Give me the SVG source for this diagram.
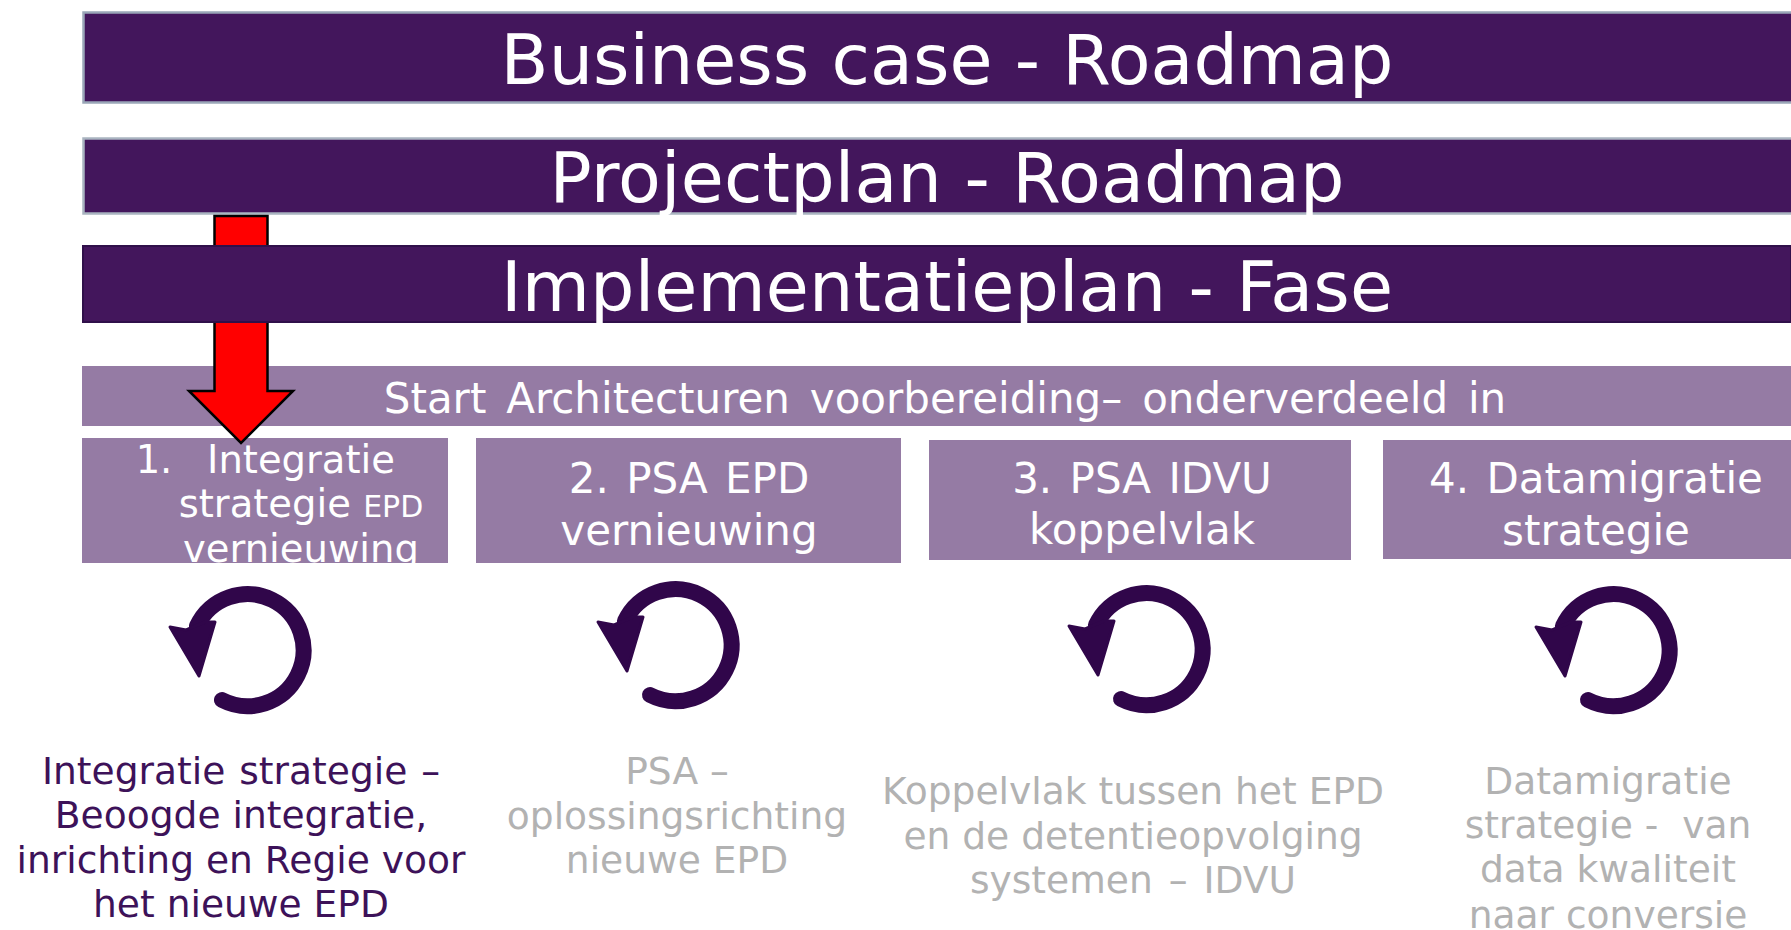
<svg xmlns="http://www.w3.org/2000/svg" width="1791" height="930" viewBox="0 0 1791 930">
<style>
text{font-family:"DejaVu Sans",Verdana,sans-serif;text-anchor:middle;white-space:pre}
.w{fill:#fff}.bar{fill:#43165c}.lt{fill:#957ba4}
.d{fill:#3d1259;font-size:37.6px}.g{fill:#b2b2b2;font-size:37.6px}.m{font-size:42px;word-spacing:4px}.s{font-size:38.500px}
</style>
<defs>
<g id="cycle"><path d="M197 626A56 56 0 1 1 222 700" fill="none" stroke="#30064a" stroke-width="16" stroke-linecap="round"/><path d="M170 627L186 630L205 622L215 622L199 676Z" fill="#30064a" stroke="#30064a" stroke-width="3" stroke-linejoin="round"/></g>
</defs>
<rect width="1791" height="930" fill="#fff"/>
<g id="bar-business"><path d="M1791 12.500H83.500V102.500H1791" class="bar" stroke="#9aa7b8" stroke-width="2.500"/><text class="w" x="947" y="84" font-size="70">Business case - Roadmap</text></g>
<g id="bar-project"><path d="M1791 138.500H83.500V213.500H1791" class="bar" stroke="#a9b4c0" stroke-width="2.500"/><text class="w" x="947" y="202" font-size="70" textLength="795">Projectplan - Roadmap</text></g>
<g id="band"><rect x="82" y="366" width="1709" height="60" class="lt"/><text class="w m" x="945" y="413" style="word-spacing:6.500px">Start Architecturen voorbereiding– onderverdeeld in</text></g>
<g id="box1"><rect x="82" y="438" width="366" height="125" class="lt"/><text class="w s" x="154" y="473">1.</text><text class="w s" x="301" y="473">Integratie</text><text class="w s" x="301" y="517">strategie <tspan font-size="30">EPD</tspan></text><text class="w s" x="301" y="562">vernieuwing</text></g>
<g id="connectors"><path d="M214.500 216H267.500V391H293L241 443L189 391H214.500Z" fill="#f00" stroke="#000" stroke-width="2.500"/></g>
<g id="bar-impl"><rect x="83" y="246" width="1708" height="76" class="bar" stroke="#30104a" stroke-width="2"/><text class="w" x="947" y="311" font-size="70" textLength="892">Implementatieplan - Fase</text></g>
<g id="box2"><rect x="476" y="438" width="425" height="125" class="lt"/><text class="w m" x="689" y="493">2. PSA EPD</text><text class="w m" x="689" y="545">vernieuwing</text></g>
<g id="box3"><rect x="929" y="440" width="422" height="120" class="lt"/><text class="w m" x="1142" y="493">3. PSA IDVU</text><text class="w m" x="1142" y="544">koppelvlak</text></g>
<g id="box4"><rect x="1383" y="440" width="408" height="119" class="lt"/><text class="w m" x="1596" y="493">4. Datamigratie</text><text class="w m" x="1596" y="545">strategie</text></g>
<g id="item1"><use href="#cycle"/><text class="d" x="241" y="784" style="word-spacing:2px">Integratie strategie –</text><text class="d" x="241" y="828">Beoogde integratie,</text><text class="d" x="241" y="873">inrichting en Regie voor</text><text class="d" x="241" y="917">het nieuwe EPD</text></g>
<g id="item2"><use href="#cycle" x="428" y="-5"/><text class="g" x="677" y="784">PSA –</text><text class="g" x="677" y="829">oplossingsrichting</text><text class="g" x="677" y="873">nieuwe EPD</text></g>
<g id="item3"><use href="#cycle" x="899" y="-1"/><text class="g" x="1133" y="804">Koppelvlak tussen het EPD</text><text class="g" x="1133" y="849">en de detentieopvolging</text><text class="g" x="1133" y="893" style="word-spacing:4px">systemen – IDVU</text></g>
<g id="item4"><use href="#cycle" x="1366"/><text class="g" x="1608" y="794">Datamigratie</text><text class="g" x="1608" y="838">strategie -  van</text><text class="g" x="1608" y="882">data kwaliteit</text><text class="g" x="1608" y="928">naar conversie</text></g>
</svg>
